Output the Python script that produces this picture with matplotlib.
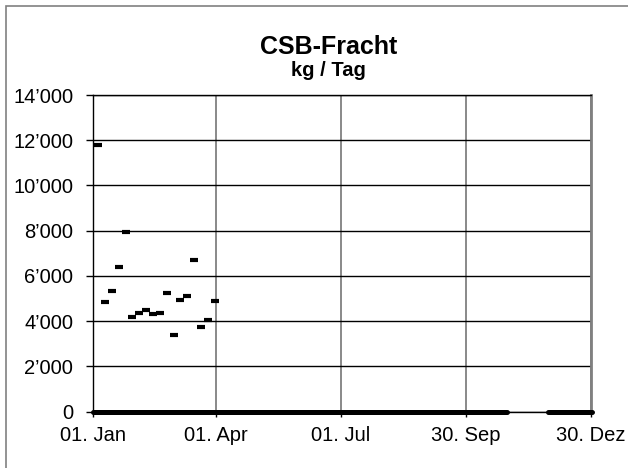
import matplotlib
matplotlib.use("Agg")
import matplotlib.pyplot as plt
from matplotlib.ticker import FuncFormatter
from matplotlib.patches import Rectangle
import pandas as pd

plt.rcParams['font.family'] = ['Liberation Sans', 'DejaVu Sans']

# Messwerte CSB-Fracht (kg/Tag)
mess_daten = ["2009-01-05", "2009-01-10", "2009-01-15", "2009-01-20", "2009-01-25",
              "2009-01-30", "2009-02-04", "2009-02-09", "2009-02-14", "2009-02-19",
              "2009-02-24", "2009-03-01", "2009-03-06", "2009-03-11", "2009-03-16",
              "2009-03-21", "2009-03-26", "2009-03-31"]
mess_werte = [11780, 4830, 5320, 6400, 7950, 4200, 4360, 4490, 4330, 4380,
              5240, 3410, 4950, 5110, 6710, 3740, 4070, 4910]

# Tage ohne Messwert (als 0 dargestellt)
null_bereiche = [("2009-01-01", "2009-10-30"), ("2009-11-29", "2009-12-31")]

x_ticks = ["2009-01-01", "2009-04-01", "2009-07-01", "2009-09-30", "2009-12-30"]
x_labels = ["01. Jan", "01. Apr", "01. Jul", "30. Sep", "30. Dez"]
y_ticks = [0, 2000, 4000, 6000, 8000, 10000, 12000, 14000]

fig = plt.figure(figsize=(6.28, 4.68), dpi=100)
ax = fig.add_axes([0.1476, 0.1203, 0.9406 - 0.1476, 0.797 - 0.1203])

# outer frame
fig.patches.append(Rectangle((6 / 628, -0.1), 1.2, 1 - 6 / 468 + 0.1, transform=fig.transFigure,
                             fill=False, edgecolor='#808080', linewidth=1.2))

xt = pd.to_datetime(x_ticks)
ax.set_xlim(xt[0], xt[-1])
ax.set_ylim(0, 14000)
ax.set_xticks(xt)
ax.set_xticklabels(x_labels)
ax.set_yticks(y_ticks)
ax.yaxis.set_major_formatter(FuncFormatter(lambda v, p: f"{int(v):,}".replace(",", "\u2019")))

ax.grid(axis='y', color='black', linewidth=1.0)
ax.grid(axis='x', color='#808080', linewidth=1.3)
ax.set_axisbelow(True)

for start, end in null_bereiche:
    ax.plot(pd.to_datetime([start, end]), [0, 0], color='black', linewidth=3.6,
            solid_capstyle='round', clip_on=False, zorder=5)

ax.plot(pd.to_datetime(mess_daten), mess_werte, linestyle='none', marker='_',
        markersize=6, markeredgewidth=3, color='black', zorder=6)

for s in ['top', 'left', 'bottom']:
    ax.spines[s].set_color('black')
    ax.spines[s].set_linewidth(1.0)
ax.spines['right'].set_color('#808080')
ax.spines['right'].set_linewidth(2.0)

ax.tick_params(axis='y', direction='out', length=5, width=1, pad=9, labelsize=14.5)
ax.tick_params(axis='x', direction='out', length=3.6, width=1, pad=7, labelsize=14.5)

fig.text(0.524, 1 - 54.3 / 468, "CSB-Fracht", ha='center', va='baseline',
         fontsize=18, fontweight='bold')
fig.text(0.523, 1 - 76 / 468, "kg / Tag", ha='center', va='baseline',
         fontsize=14.5, fontweight='bold')

fig.savefig("out.png", dpi=100)
